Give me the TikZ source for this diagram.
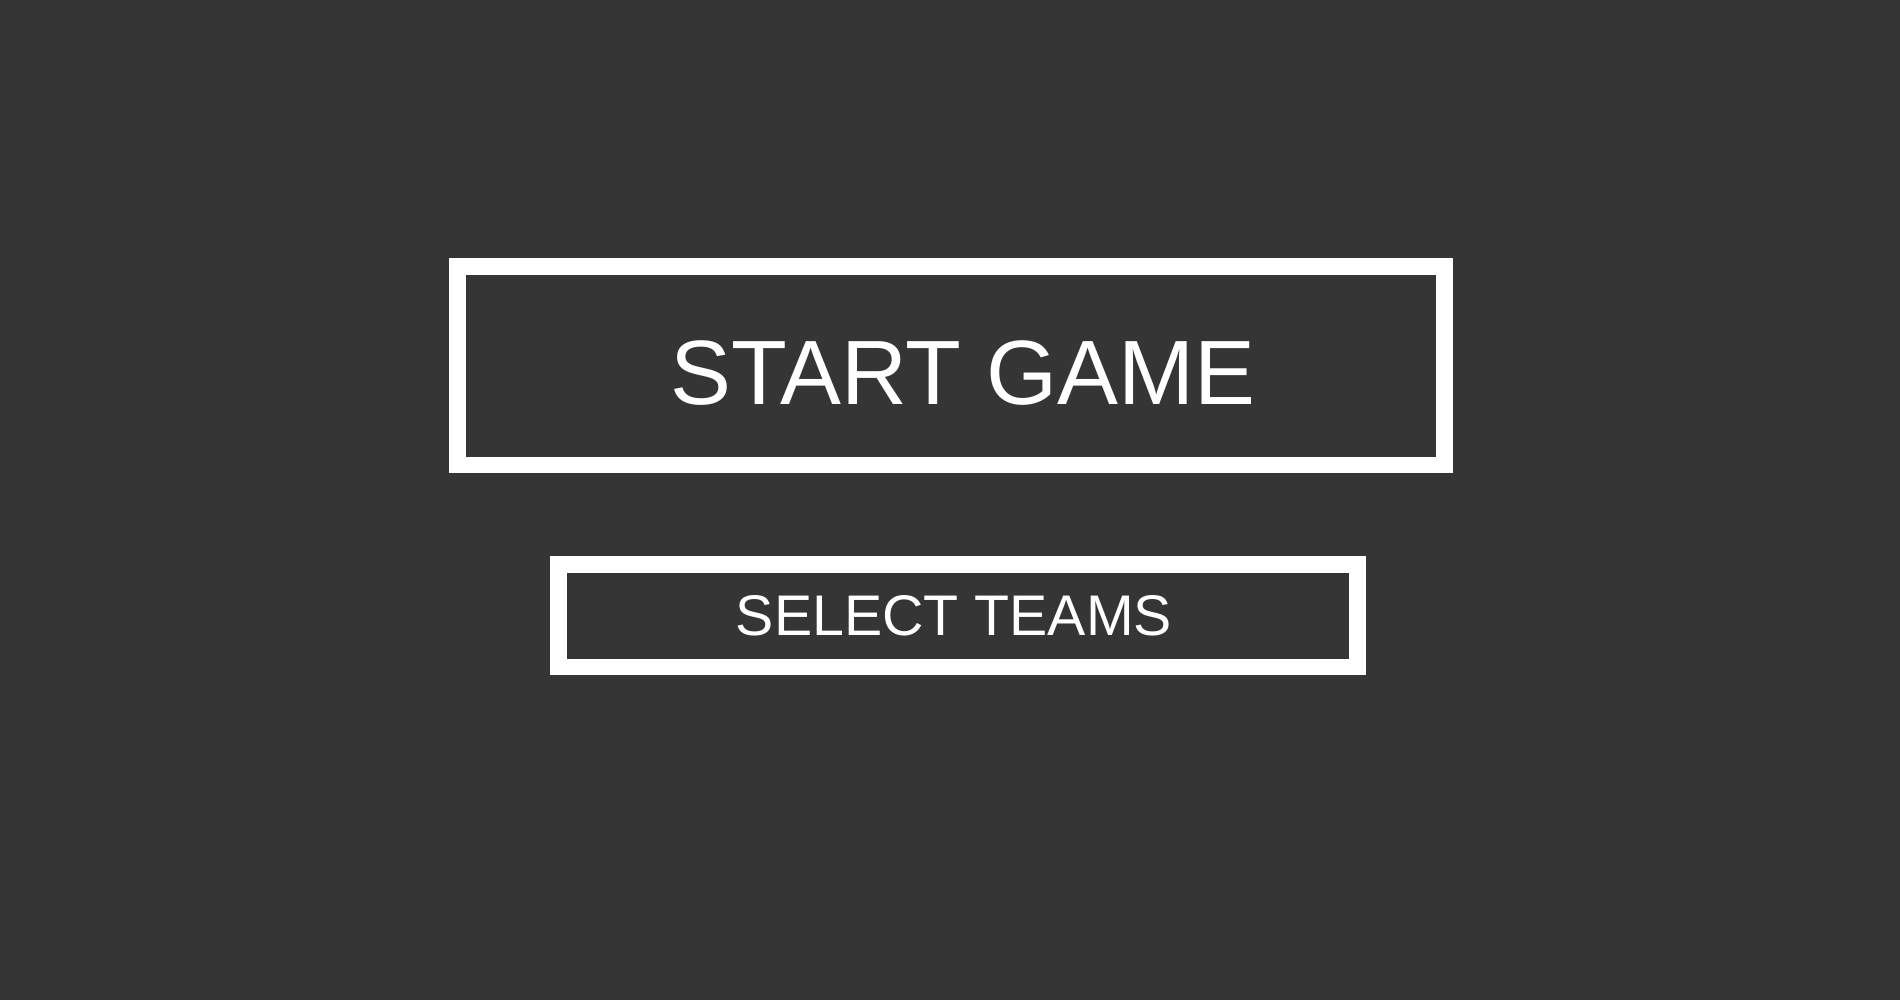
\documentclass[tikz,border=0pt]{standalone}
\usepackage{fontspec}
\setmainfont{Liberation Sans}
\usetikzlibrary{positioning}
\definecolor{menubg}{RGB}{53,53,53}

\begin{document}
\begin{tikzpicture}[button/.style={draw=white,line width=0.165cm,inner sep=0pt},
                    caption/.style={text=white,inner sep=0pt},node distance=2.5cm]

  \fill[menubg] (0,0) rectangle (19,10);
  \useasboundingbox (0,0) rectangle (19,10);

  \node[button,minimum width=9.87cm,minimum height=1.985cm] (start) at (9.51,6.34) {};
  \node[button,minimum width=7.99cm,minimum height=1.025cm] (teams) [below of=start,xshift=0.07cm] {};

  \node[caption,font=\fontsize{26pt}{31pt}\selectfont]
        (startlbl) at ([xshift=0.12cm,yshift=-0.067cm]start.center) {START GAME};
  \node[caption,font=\fontsize{16.3pt}{19pt}\selectfont]
        (teamslbl) at ([xshift=-0.04cm]teams.center) {SELECT TEAMS};
\end{tikzpicture}
\end{document}
